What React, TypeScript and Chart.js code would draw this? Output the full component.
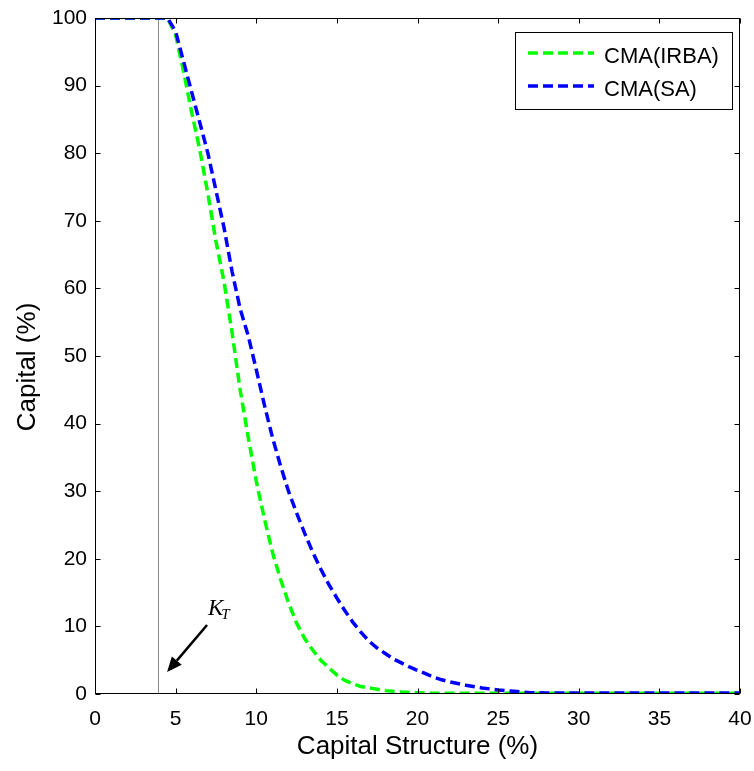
import React, { useEffect, useRef } from "react";
import { Chart, registerables } from "chart.js";

Chart.register(...registerables);

// Capital structure (%) sample points
const capitalStructure = [
  0, 1, 2, 3, 4, 4.5, 5, 5.5, 6, 6.5, 7, 7.5, 8, 8.5, 9, 9.5, 10, 10.5, 11, 11.5,
  12, 12.5, 13, 13.5, 14, 14.5, 15, 15.5, 16, 16.5, 17, 17.5, 18, 18.5, 19, 19.5,
  20, 20.5, 21, 21.5, 22, 23, 24, 25, 26, 27, 28, 30, 35, 40,
];

// CMA(IRBA) capital (%)
const cmaIRBA = [
  100, 100, 100, 100, 100, 100, 97.5, 92, 86, 80.5, 74, 67, 61, 53.5, 45, 38, 31.5, 26, 21, 17,
  13.5, 10.5, 8.2, 6.5, 5, 3.9, 2.8, 2, 1.5, 1.1, 0.9, 0.7, 0.5, 0.4, 0.3, 0.25,
  0.2, 0.15, 0.1, 0.1, 0.1, 0.1, 0.1, 0.1, 0.1, 0.1, 0.1, 0.1, 0.1, 0.1,
];

// CMA(SA) capital (%)
const cmaSA = [
  100, 100, 100, 100, 100, 100, 98, 93.5, 89, 84.5, 80, 74.5, 69, 62.5, 57, 53, 48, 42.8, 38, 33.8,
  30, 26.8, 23.8, 21, 18.5, 16.2, 14.2, 12.3, 10.6, 9.1, 7.8, 6.8, 6, 5.2, 4.6, 4,
  3.5, 3, 2.5, 2.1, 1.8, 1.3, 0.9, 0.6, 0.4, 0.2, 0.15, 0.15, 0.15, 0.15,
];

const seriesLabels = ["CMA(IRBA)", "CMA(SA)"];
const seriesColors = ["#00ff00", "#0000ff"];

const xTicks = [0, 5, 10, 15, 20, 25, 30, 35, 40];
const yTicks = [0, 10, 20, 30, 40, 50, 60, 70, 80, 90, 100];
const yTitle = "Capital (%)";
const xTitle = "Capital Structure (%)";

// K_T threshold and its annotation
const kT = 3.9;
const arrowFrom = { x: 6.95, y: 10.2 };
const arrowTo = { x: 4.47, y: 3.25 };
const kLabelAt = { x: 7.0, y: 11.7 };

const SANS = "'Liberation Sans', Arial, sans-serif";

export default function App() {
  const ref = useRef<HTMLCanvasElement>(null);

  useEffect(() => {
    const canvas = ref.current;
    if (!canvas) return;

    const decor = {
      id: "decor",
      beforeDatasetsDraw(chart: any) {
        const { ctx, chartArea, scales } = chart;
        const x = Math.round(scales.x.getPixelForValue(kT)) + 0.5;
        ctx.save();
        ctx.strokeStyle = "#8a8a8a";
        ctx.lineWidth = 1;
        ctx.beginPath();
        ctx.moveTo(x, chartArea.top);
        ctx.lineTo(x, chartArea.bottom);
        ctx.stroke();
        ctx.restore();
      },
      afterDraw(chart: any) {
        const { ctx, chartArea: a, scales } = chart;
        const sx = scales.x, sy = scales.y;
        ctx.save();
        // box
        ctx.strokeStyle = "#000";
        ctx.lineWidth = 1;
        const L = Math.round(a.left) + 0.5, R = Math.round(a.right) - 0.5;
        const T = Math.round(a.top) + 0.5, B = Math.round(a.bottom) - 0.5;
        ctx.strokeRect(L, T, R - L, B - T);
        // inward ticks
        const tl = 5;
        ctx.beginPath();
        xTicks.forEach((v) => {
          const px = Math.round(sx.getPixelForValue(v)) + 0.5;
          ctx.moveTo(px, B); ctx.lineTo(px, B - tl);
          ctx.moveTo(px, T); ctx.lineTo(px, T + tl);
        });
        yTicks.forEach((v) => {
          const py = Math.round(sy.getPixelForValue(v)) + 0.5;
          ctx.moveTo(L, py); ctx.lineTo(L + tl, py);
          ctx.moveTo(R, py); ctx.lineTo(R - tl, py);
        });
        ctx.stroke();

        // y title
        ctx.save();
        ctx.translate(28, (a.top + a.bottom) / 2 + 11);
        ctx.rotate(-Math.PI / 2);
        ctx.fillStyle = "#000";
        ctx.font = `26px ${SANS}`;
        ctx.textAlign = "center";
        ctx.textBaseline = "middle";
        ctx.fillText(yTitle, 0, 0);
        ctx.restore();

        // arrow
        const x1 = sx.getPixelForValue(arrowFrom.x), y1 = sy.getPixelForValue(arrowFrom.y);
        const x2 = sx.getPixelForValue(arrowTo.x), y2 = sy.getPixelForValue(arrowTo.y);
        const ang = Math.atan2(y2 - y1, x2 - x1);
        const hl = 15, hw = 6.5;
        const bx = x2 - hl * Math.cos(ang), by = y2 - hl * Math.sin(ang);
        ctx.strokeStyle = "#000";
        ctx.lineWidth = 2.5;
        ctx.beginPath();
        ctx.moveTo(x1, y1);
        ctx.lineTo(bx, by);
        ctx.stroke();
        ctx.fillStyle = "#000";
        ctx.beginPath();
        ctx.moveTo(x2, y2);
        ctx.lineTo(bx + hw * Math.sin(ang), by - hw * Math.cos(ang));
        ctx.lineTo(bx - hw * Math.sin(ang), by + hw * Math.cos(ang));
        ctx.closePath();
        ctx.fill();

        // K_T label
        const kx = sx.getPixelForValue(kLabelAt.x), ky = sy.getPixelForValue(kLabelAt.y);
        ctx.fillStyle = "#000";
        ctx.textBaseline = "alphabetic";
        ctx.textAlign = "left";
        ctx.font = "italic 23px 'Liberation Serif', 'DejaVu Serif', serif";
        ctx.fillText("K", kx, ky);
        const kw = ctx.measureText("K").width;
        ctx.font = "italic 15px 'Liberation Serif', 'DejaVu Serif', serif";
        ctx.fillText("T", kx + kw - 2, ky + 4);

        // legend
        const lx = 515, ly = 32, lw = 217, lh = 77;
        ctx.fillStyle = "#fff";
        ctx.fillRect(lx, ly, lw, lh);
        ctx.strokeStyle = "#000";
        ctx.lineWidth = 1;
        ctx.strokeRect(lx + 0.5, ly + 0.5, lw, lh);
        ctx.font = `22px ${SANS}`;
        ctx.textBaseline = "middle";
        seriesLabels.forEach((lab, i) => {
          const yy = ly + 21 + i * 33;
          ctx.strokeStyle = seriesColors[i];
          ctx.lineWidth = 3.5;
          ctx.setLineDash([10, 5]);
          ctx.beginPath();
          ctx.moveTo(lx + 13, yy);
          ctx.lineTo(lx + 79, yy);
          ctx.stroke();
          ctx.setLineDash([]);
          ctx.fillStyle = "#000";
          ctx.fillText(lab, lx + 89, yy + 4);
        });
        ctx.restore();
      },
    };

    const toPts = (ys: number[]) => capitalStructure.map((x, i) => ({ x, y: ys[i] }));

    const chart = new Chart(canvas, {
      type: "line",
      data: {
        datasets: [
          {
            label: seriesLabels[0],
            data: toPts(cmaIRBA),
            borderColor: seriesColors[0],
            borderWidth: 3.5,
            borderDash: [10, 5],
            pointRadius: 0,
            fill: false,
            tension: 0,
            order: 2,
          },
          {
            label: seriesLabels[1],
            data: toPts(cmaSA),
            borderColor: seriesColors[1],
            borderWidth: 3.5,
            borderDash: [10, 5],
            pointRadius: 0,
            fill: false,
            tension: 0,
            order: 1,
          },
        ],
      },
      options: {
        responsive: false,
        animation: false,
        devicePixelRatio: 1,
        layout: { padding: { left: 0, top: 18, right: 14, bottom: 0 } },
        plugins: { legend: { display: false }, tooltip: { enabled: false } },
        scales: {
          x: {
            type: "linear",
            min: 0,
            max: 40,
            grid: { display: false, drawTicks: false },
            border: { display: false },
            afterFit: (s: any) => {
              s.height = 77;
              s.paddingLeft = 0;
              s.paddingRight = 0;
            },
            ticks: {
              stepSize: 5,
              color: "#000",
              padding: 13,
              maxRotation: 0,
              font: { family: SANS, size: 21 },
            },
            title: {
              display: true,
              text: xTitle,
              color: "#000",
              padding: { top: 0, bottom: 9 },
              font: { family: SANS, size: 26 },
            },
          },
          y: {
            type: "linear",
            min: 0,
            max: 100,
            grid: { display: false, drawTicks: false },
            border: { display: false },
            afterFit: (s: any) => {
              s.width = 95;
              s.paddingTop = 0;
              s.paddingBottom = 0;
            },
            ticks: {
              stepSize: 10,
              color: "#000",
              padding: 8,
              font: { family: SANS, size: 21 },
            },
            title: { display: false, text: yTitle },
          },
        },
      },
      plugins: [decor],
    });

    return () => chart.destroy();
  }, []);

  return (
    <div style={{ position: "absolute", left: 0, top: 0, width: 754, height: 771, background: "#fff" }}>
      <canvas ref={ref} width={754} height={771} style={{ display: "block", width: 754, height: 771 }} />
    </div>
  );
}
